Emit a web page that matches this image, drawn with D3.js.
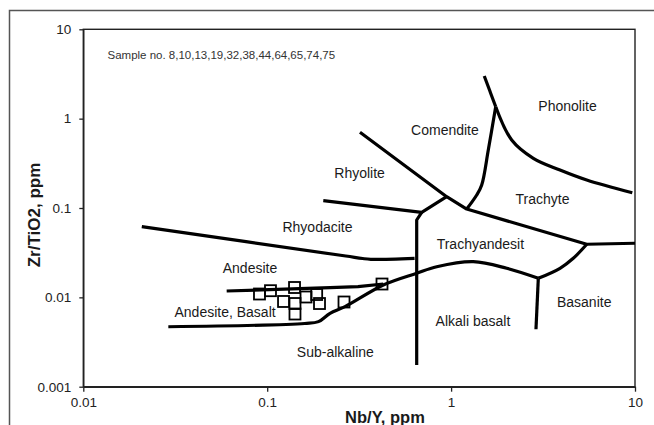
<!DOCTYPE html>
<html>
<head>
<meta charset="utf-8">
<script src="https://cdn.jsdelivr.net/npm/d3@7"></script>
<style>
  html, body { margin: 0; padding: 0; background: #fff; }
  svg { display: block; font-family: "Liberation Sans", Arial, sans-serif; }
</style>
</head>
<body>
<svg id="chart" width="654" height="425"></svg>
<script>
// ---- Axis ticks ----
const xTicks = [0.01, 0.1, 1, 10];
const xTickLabels = ["0.01", "0.1", "1", "10"];
const yTicks = [0.001, 0.01, 0.1, 1, 10];
const yTickLabels = ["0.001", "0.01", "0.1", "1", "10"];

// ---- Samples (Nb/Y, Zr/TiO2) ----
const sampleNbY  = [0.0908, 0.1042, 0.1408, 0.1227, 0.1416, 0.1416, 0.1858, 0.1925, 0.2616, 0.421, 0.1626];
const sampleZrTi = [0.0109, 0.01187, 0.01289, 0.00899, 0.00853, 0.00651, 0.01076, 0.00853, 0.00887, 0.0141, 0.01009];

// ---- Field boundaries [Nb/Y, Zr/TiO2] ----
const lineRhyoliteComendite = [[0.3195, 0.703], [0.946, 0.1338], [1.216, 0.0974], [5.465, 0.0393], [10, 0.0403]];
const lineRhyoliteRhyodacite = [[0.2018, 0.1207], [0.692, 0.0895], [0.946, 0.1338]];
const lineAlkaliDivide = [[0.692, 0.0895], [0.650, 0.0734], [0.650, 0.00175]];
const lineRhyodaciteAndesite = [[0.0208, 0.0618], [0.2675, 0.029], [0.33, 0.0272], [0.366, 0.02667], [0.633, 0.02735]];
const lineAndesiteBasaltTop = [[0.0602, 0.01178], [0.2196, 0.01282], [0.3118, 0.01316], [0.428, 0.0141]];
const lineSubalkaline = [[0.029, 0.00469], [0.16, 0.0051], [0.19, 0.00535], [0.2196, 0.00663], [0.2649, 0.00786],
                         [0.428, 0.01374], [0.65, 0.0186], [0.835, 0.0220], [1.32, 0.02506], [2.006, 0.02114], [2.98, 0.01633]];
const lineBasaniteTop = [[2.98, 0.01633], [3.91, 0.02114], [4.617, 0.02735], [5.465, 0.0393]];
const lineBasaniteLeft = [[2.98, 0.01633], [2.894, 0.00439]];
const lineComenditeTrachyte = [[1.216, 0.0974], [1.378, 0.1398], [1.467, 0.181], [1.593, 0.4457], [1.748, 1.361]];
const lineTopSpike = [[1.515, 3.0], [1.748, 1.361]];
const linePhonolite = [[1.748, 1.361], [2.135, 0.577], [2.80, 0.36], [3.91, 0.266], [5.465, 0.2057], [9.67, 0.1483]];

// ---- Field labels ----
const fieldNames = ["Phonolite", "Comendite", "Rhyolite", "Trachyte", "Rhyodacite", "Trachyandesit",
                    "Andesite", "Andesite, Basalt", "Basanite", "Alkali basalt", "Sub-alkaline"];
const fieldX = [4.295, 0.926, 0.318, 3.14, 0.1877, 1.443, 0.0806, 0.059, 5.294, 1.315, 0.2349];
const fieldY = [1.386, 0.746, 0.2444, 0.126, 0.0618, 0.0392, 0.0215, 0.00691, 0.00894, 0.00548, 0.00246];

const noteText = "Sample no. 8,10,13,19,32,38,44,64,65,74,75";
const xTitle = "Nb/Y, ppm";
const yTitle = "Zr/TiO2, ppm";

// ---- Drawing ----
const svg = d3.select("#chart");
const plotL = 83.3, plotR = 635, plotT = 29.3, plotB = 386.7;

const x = d3.scaleLog().domain([0.01, 10]).range([plotL, plotR]);
const y = d3.scaleLog().domain([0.001, 10]).range([plotB, plotT]);

// outer frame
svg.append("rect")
  .attr("x", 9.5).attr("y", 10.5).attr("width", 700).attr("height", 500)
  .attr("fill", "none").attr("stroke", "#555").attr("stroke-width", 1.5);

// plot border
svg.append("rect")
  .attr("x", plotL).attr("y", plotT).attr("width", plotR - plotL).attr("height", plotB - plotT)
  .attr("fill", "none").attr("stroke", "#222").attr("stroke-width", 1.4);

const xAxis = d3.axisBottom(x).tickValues(xTicks).tickFormat((d, i) => xTickLabels[i])
  .tickSize(5).tickPadding(6).tickSizeOuter(0);
const yAxis = d3.axisLeft(y).tickValues(yTicks).tickFormat((d, i) => yTickLabels[i])
  .tickSize(4).tickPadding(8).tickSizeOuter(0);

const gx = svg.append("g").attr("transform", `translate(0,${plotB})`).call(xAxis);
const gy = svg.append("g").attr("transform", `translate(${plotL},0)`).call(yAxis);
[gx, gy].forEach(g => {
  g.select(".domain").attr("stroke", "#222").attr("stroke-width", 1.4);
  g.selectAll(".tick line").attr("stroke", "#222").attr("stroke-width", 1.3);
  g.selectAll(".tick text").attr("fill", "#222").style("font-size", "13.5px")
    .style("font-family", "'Liberation Sans', Arial, sans-serif");
});

// boundaries
const lin = d3.line().x(d => x(d[0])).y(d => y(d[1]));
const smooth = d3.line().x(d => x(d[0])).y(d => y(d[1])).curve(d3.curveCatmullRom.alpha(0.5));
const lines = [
  [lineRhyoliteComendite, lin],
  [lineRhyoliteRhyodacite, lin],
  [lineAlkaliDivide, lin],
  [lineRhyodaciteAndesite, smooth],
  [lineAndesiteBasaltTop, lin],
  [lineSubalkaline, smooth],
  [lineBasaniteTop, smooth],
  [lineBasaniteLeft, lin],
  [lineComenditeTrachyte, smooth],
  [lineTopSpike, lin],
  [linePhonolite, smooth]
];
svg.append("g").selectAll("path").data(lines).join("path")
  .attr("d", d => d[1](d[0]))
  .attr("fill", "none").attr("stroke", "#000").attr("stroke-width", 3.2)
  .attr("stroke-linejoin", "round").attr("stroke-linecap", "butt");

// field labels
svg.append("g").selectAll("text").data(fieldNames).join("text")
  .attr("x", (d, i) => x(fieldX[i])).attr("y", (d, i) => y(fieldY[i]))
  .attr("dy", "0.35em").attr("text-anchor", "middle")
  .attr("fill", "#1a1a1a").style("font-size", "14px")
  .text(d => d);

// samples
const sq = 11;
svg.append("g").selectAll("rect").data(sampleNbY).join("rect")
  .attr("x", (d, i) => x(d) - sq / 2).attr("y", (d, i) => y(sampleZrTi[i]) - sq / 2)
  .attr("width", sq).attr("height", sq)
  .attr("fill", "none").attr("stroke", "#000").attr("stroke-width", 1.8);

// note
svg.append("text").attr("x", x(0.01354)).attr("y", y(5.16)).attr("dy", "0.35em")
  .attr("fill", "#333").style("font-size", "11.5px").text(noteText);

// axis titles
svg.append("text").attr("x", 385).attr("y", 417).attr("dy", "0.35em").attr("text-anchor", "middle")
  .attr("fill", "#1a1a1a").style("font-size", "16.5px").style("font-weight", "bold").text(xTitle);
svg.append("text").attr("transform", "translate(34,215) rotate(-90)").attr("dy", "0.35em")
  .attr("text-anchor", "middle").attr("fill", "#1a1a1a")
  .style("font-size", "17px").style("font-weight", "bold").text(yTitle);
</script>
</body>
</html>
